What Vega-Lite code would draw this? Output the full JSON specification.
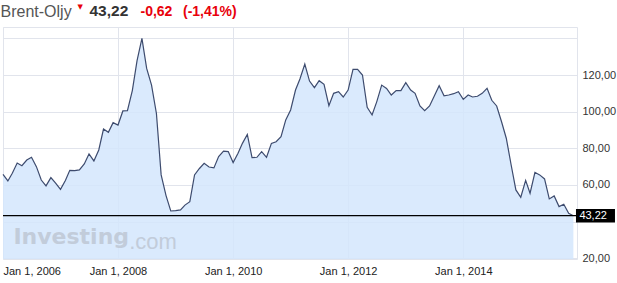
{
  "$schema": "https://vega.github.io/schema/vega-lite/v6.json",
  "width": 574,
  "height": 232,
  "autosize": {"type": "none"},
  "padding": {"left": 3, "top": 27, "right": 40, "bottom": 24},
  "background": "white",
  "config": {"view": {"stroke": "#e1e4ec", "strokeWidth": 1}, "font": "Liberation Sans"},
  "data": {"values": [
    {"d": "2006-01-01", "v": 65.8}, {"d": "2006-02-01", "v": 62.2}, {"d": "2006-03-01", "v": 66.4}, {"d": "2006-04-01", "v": 72.0},
    {"d": "2006-05-01", "v": 70.5}, {"d": "2006-06-01", "v": 73.6}, {"d": "2006-07-01", "v": 75.1}, {"d": "2006-08-01", "v": 70.0},
    {"d": "2006-09-01", "v": 62.7}, {"d": "2006-10-01", "v": 59.5}, {"d": "2006-11-01", "v": 64.0}, {"d": "2006-12-01", "v": 61.0},
    {"d": "2007-01-01", "v": 57.6}, {"d": "2007-02-01", "v": 62.4}, {"d": "2007-03-01", "v": 68.0}, {"d": "2007-04-01", "v": 67.8},
    {"d": "2007-05-01", "v": 68.2}, {"d": "2007-06-01", "v": 71.5}, {"d": "2007-07-01", "v": 76.9}, {"d": "2007-08-01", "v": 73.1},
    {"d": "2007-09-01", "v": 79.1}, {"d": "2007-10-01", "v": 90.5}, {"d": "2007-11-01", "v": 88.7}, {"d": "2007-12-01", "v": 94.0},
    {"d": "2008-01-01", "v": 92.7}, {"d": "2008-02-01", "v": 100.4}, {"d": "2008-03-01", "v": 100.5}, {"d": "2008-04-01", "v": 111.5},
    {"d": "2008-05-01", "v": 127.8}, {"d": "2008-06-01", "v": 140.0}, {"d": "2008-07-01", "v": 123.6}, {"d": "2008-08-01", "v": 114.5},
    {"d": "2008-09-01", "v": 99.0}, {"d": "2008-10-01", "v": 65.5}, {"d": "2008-11-01", "v": 54.2}, {"d": "2008-12-01", "v": 45.8},
    {"d": "2009-01-01", "v": 46.0}, {"d": "2009-02-01", "v": 46.4}, {"d": "2009-03-01", "v": 49.0}, {"d": "2009-04-01", "v": 50.9},
    {"d": "2009-05-01", "v": 65.5}, {"d": "2009-06-01", "v": 69.0}, {"d": "2009-07-01", "v": 71.8}, {"d": "2009-08-01", "v": 69.8},
    {"d": "2009-09-01", "v": 69.3}, {"d": "2009-10-01", "v": 75.5}, {"d": "2009-11-01", "v": 78.5}, {"d": "2009-12-01", "v": 78.2},
    {"d": "2010-01-01", "v": 72.2}, {"d": "2010-02-01", "v": 77.3}, {"d": "2010-03-01", "v": 82.7}, {"d": "2010-04-01", "v": 87.6},
    {"d": "2010-05-01", "v": 74.9}, {"d": "2010-06-01", "v": 75.1}, {"d": "2010-07-01", "v": 78.2}, {"d": "2010-08-01", "v": 75.1},
    {"d": "2010-09-01", "v": 82.7}, {"d": "2010-10-01", "v": 83.6}, {"d": "2010-11-01", "v": 86.4}, {"d": "2010-12-01", "v": 95.5},
    {"d": "2011-01-01", "v": 100.9}, {"d": "2011-02-01", "v": 111.8}, {"d": "2011-03-01", "v": 117.8}, {"d": "2011-04-01", "v": 126.0},
    {"d": "2011-05-01", "v": 116.7}, {"d": "2011-06-01", "v": 113.1}, {"d": "2011-07-01", "v": 116.9}, {"d": "2011-08-01", "v": 114.9},
    {"d": "2011-09-01", "v": 103.3}, {"d": "2011-10-01", "v": 110.0}, {"d": "2011-11-01", "v": 110.9}, {"d": "2011-12-01", "v": 108.0},
    {"d": "2012-01-01", "v": 111.8}, {"d": "2012-02-01", "v": 123.1}, {"d": "2012-03-01", "v": 123.1}, {"d": "2012-04-01", "v": 120.0},
    {"d": "2012-05-01", "v": 102.4}, {"d": "2012-06-01", "v": 98.2}, {"d": "2012-07-01", "v": 105.5}, {"d": "2012-08-01", "v": 114.5},
    {"d": "2012-09-01", "v": 112.7}, {"d": "2012-10-01", "v": 109.1}, {"d": "2012-11-01", "v": 111.5}, {"d": "2012-12-01", "v": 111.5},
    {"d": "2013-01-01", "v": 115.8}, {"d": "2013-02-01", "v": 111.8}, {"d": "2013-03-01", "v": 110.0}, {"d": "2013-04-01", "v": 103.1},
    {"d": "2013-05-01", "v": 100.5}, {"d": "2013-06-01", "v": 103.1}, {"d": "2013-07-01", "v": 108.5}, {"d": "2013-08-01", "v": 114.2},
    {"d": "2013-09-01", "v": 108.7}, {"d": "2013-10-01", "v": 109.1}, {"d": "2013-11-01", "v": 109.8}, {"d": "2013-12-01", "v": 110.9},
    {"d": "2014-01-01", "v": 106.7}, {"d": "2014-02-01", "v": 109.1}, {"d": "2014-03-01", "v": 108.0}, {"d": "2014-04-01", "v": 108.4},
    {"d": "2014-05-01", "v": 110.0}, {"d": "2014-06-01", "v": 112.7}, {"d": "2014-07-01", "v": 106.2}, {"d": "2014-08-01", "v": 103.1},
    {"d": "2014-09-01", "v": 94.5}, {"d": "2014-10-01", "v": 85.5}, {"d": "2014-11-01", "v": 70.9}, {"d": "2014-12-01", "v": 57.3},
    {"d": "2015-01-01", "v": 53.3}, {"d": "2015-02-01", "v": 62.5}, {"d": "2015-03-01", "v": 55.5}, {"d": "2015-04-01", "v": 66.9},
    {"d": "2015-05-01", "v": 65.5}, {"d": "2015-06-01", "v": 63.3}, {"d": "2015-07-01", "v": 52.4}, {"d": "2015-08-01", "v": 54.0},
    {"d": "2015-09-01", "v": 48.2}, {"d": "2015-10-01", "v": 49.5}, {"d": "2015-11-01", "v": 44.5}, {"d": "2015-12-01", "v": 43.22}
  ]},
  "resolve": {"axis": {"x": "independent", "y": "independent"}},
  "layer": [
    {
      "mark": {"type": "area", "color": "#d3e6fd", "opacity": 0.85},
      "encoding": {
        "x": {
          "field": "d", "type": "temporal",
          "scale": {"type": "utc", "domain": [{"year": 2006, "month": 1, "date": 1, "utc": true}, {"year": 2015, "month": 12, "date": 24, "utc": true}]},
          "axis": {
            "values": [
              {"year": 2006, "month": 1, "date": 1, "utc": true},
              {"year": 2008, "month": 1, "date": 1, "utc": true},
              {"year": 2010, "month": 1, "date": 1, "utc": true},
              {"year": 2012, "month": 1, "date": 1, "utc": true},
              {"year": 2014, "month": 1, "date": 1, "utc": true}
            ],
            "format": "%b %-d, %Y", "labelFlush": true, "ticks": false, "domain": false,
            "grid": true, "gridColor": "#e1e4ec", "gridWidth": 1,
            "labelFont": "Liberation Sans", "labelFontSize": 11, "labelColor": "#222222", "labelPadding": 6,
            "title": "43,22", "titleFont": "Liberation Sans", "titleFontWeight": "bold", "titleFontSize": 15.5,
            "titleColor": "#333333", "titleX": 86, "titleY": -244, "titleAlign": "left", "titleBaseline": "alphabetic"
          }
        },
        "y": {
          "field": "v", "type": "quantitative",
          "scale": {"domain": [19.6, 146.2], "zero": false, "nice": false},
          "axis": {
            "orient": "right", "values": [20, 60, 80, 100, 120],
            "labelExpr": "replace(format(datum.value, '.2f'), '.', ',')",
            "grid": false, "ticks": false, "domain": false, "labelPadding": 5,
            "labelFont": "Liberation Sans", "labelFontSize": 11, "labelColor": "#333333",
            "title": "-0,62\u00a0\u00a0\u2009(-1,41%)", "titleFont": "Liberation Sans", "titleFontWeight": "bold", "titleFontSize": 14,
            "titleColor": "#e8000b", "titleAngle": 0, "titleX": -437, "titleY": -12, "titleAlign": "left", "titleBaseline": "alphabetic"
          }
        },
        "y2": {"datum": 19.6}
      }
    },
    {
      "mark": {"type": "line", "color": "#3d4b6e", "strokeWidth": 1.2},
      "encoding": {
        "x": {
          "field": "d", "type": "temporal",
          "scale": {"type": "utc", "domain": [{"year": 2006, "month": 1, "date": 1, "utc": true}, {"year": 2015, "month": 12, "date": 24, "utc": true}]},
          "axis": {
            "orient": "top", "labels": false, "ticks": false, "domain": false, "grid": false,
            "title": "Brent-Oljy", "titleFont": "Liberation Sans", "titleFontWeight": "normal", "titleFontSize": 16,
            "titleColor": "#555555", "titleX": -3, "titleY": -11, "titleAlign": "left", "titleBaseline": "alphabetic"
          }
        },
        "y": {
          "field": "v", "type": "quantitative",
          "scale": {"domain": [19.6, 146.2], "zero": false, "nice": false},
          "axis": {
            "orient": "left", "values": [20, 40, 60, 80, 100, 120, 140], "labels": false, "ticks": false, "domain": false,
            "grid": true, "gridColor": "#e1e4ec", "gridWidth": 1,
            "title": "▼", "titleFont": "DejaVu Sans", "titleFontSize": 7, "titleFontWeight": "normal", "titleColor": "#e8000b",
            "titleAngle": 0, "titleX": 74, "titleY": -19, "titleAlign": "left", "titleBaseline": "alphabetic"
          }
        }
      }
    },
    {
      "data": {"values": [{}]},
      "mark": {"type": "rule", "color": "#000000", "strokeWidth": 1.2},
      "encoding": {"y": {"datum": 43.22, "type": "quantitative", "axis": null}}
    },
    {
      "data": {"values": [{}]},
      "mark": {"type": "point", "shape": "M-1,-0.346L1,-0.346L1,0.346L-1,0.346Z", "size": 1521, "filled": true, "color": "#000000", "opacity": 1, "xOffset": 22.1},
      "encoding": {
        "x": {"datum": {"year": 2015, "month": 12, "date": 1, "utc": true}, "type": "temporal", "axis": null},
        "y": {"datum": 43.22, "type": "quantitative", "axis": null}
      }
    },
    {
      "data": {"values": [{}]},
      "mark": {"type": "text", "text": "43,22", "font": "Liberation Sans", "fontSize": 11, "color": "#ffffff", "align": "left", "baseline": "middle", "xOffset": 6},
      "encoding": {
        "x": {"datum": {"year": 2015, "month": 12, "date": 1, "utc": true}, "type": "temporal", "axis": null},
        "y": {"datum": 43.22, "type": "quantitative", "axis": null}
      }
    },
    {
      "data": {"values": [{}]},
      "mark": {"type": "text", "text": "Investing", "font": "DejaVu Sans", "fontWeight": "bold", "fontSize": 22, "color": "#c2ccda", "align": "left", "baseline": "alphabetic"},
      "encoding": {
        "x": {"datum": {"year": 2006, "month": 3, "date": 8, "utc": true}, "type": "temporal", "axis": null},
        "y": {"datum": 27.8, "type": "quantitative", "axis": null}
      }
    },
    {
      "data": {"values": [{}]},
      "mark": {"type": "text", "text": ".com", "font": "Liberation Sans", "fontWeight": "normal", "fontSize": 22, "color": "#c2ccda", "align": "left", "baseline": "alphabetic"},
      "encoding": {
        "x": {"datum": {"year": 2008, "month": 3, "date": 12, "utc": true}, "type": "temporal", "axis": null},
        "y": {"datum": 25.0, "type": "quantitative", "axis": null}
      }
    }
  ]
}
